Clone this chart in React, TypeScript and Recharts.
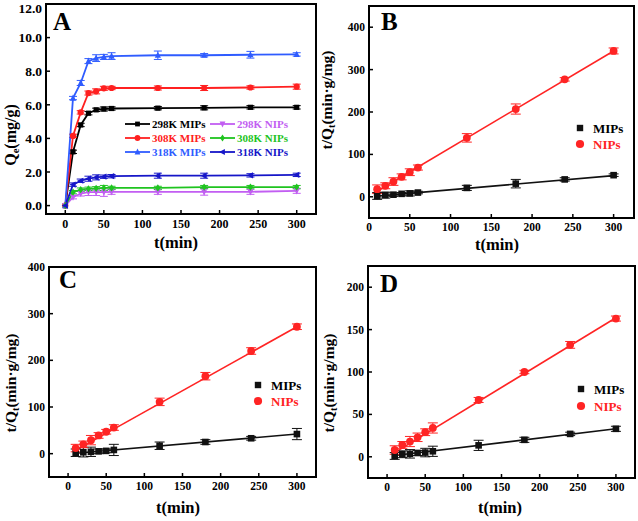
import React from 'react';
import { ComposedChart, Line, Scatter, XAxis, YAxis, ErrorBar, ReferenceArea } from 'recharts';

// ---- panel A: adsorption kinetics ----
const timesA = [0, 10, 20, 30, 40, 50, 60, 120, 180, 240, 300];
const mip298 = [0, 3.2, 4.8, 5.5, 5.7, 5.75, 5.78, 5.8, 5.82, 5.85, 5.85];
const mip298Err = [0, 0.1, 0.1, 0.1, 0.1, 0.12, 0.1, 0.1, 0.12, 0.1, 0.1];
const mip308 = [0, 4.15, 5.55, 6.7, 6.8, 6.98, 7.0, 7.0, 7.0, 7.03, 7.08];
const mip308Err = [0, 0.1, 0.1, 0.12, 0.15, 0.12, 0.1, 0.12, 0.15, 0.1, 0.15];
const mip318 = [0, 6.4, 7.3, 8.6, 8.78, 8.85, 8.9, 8.95, 8.95, 8.98, 9.0];
const mip318Err = [0, 0.1, 0.15, 0.15, 0.2, 0.15, 0.2, 0.25, 0.1, 0.2, 0.1];
const nip298 = [0, 0.5, 0.72, 0.8, 0.8, 0.8, 0.82, 0.82, 0.82, 0.82, 0.88];
const nip298Err = [0, 0.1, 0.15, 0.2, 0.2, 0.25, 0.15, 0.15, 0.2, 0.15, 0.15];
const nip308 = [0, 0.8, 0.95, 1.0, 1.03, 1.05, 1.05, 1.05, 1.1, 1.1, 1.1];
const nip308Err = [0, 0.1, 0.1, 0.1, 0.1, 0.15, 0.1, 0.1, 0.1, 0.1, 0.1];
const nip318 = [0, 1.25, 1.48, 1.6, 1.68, 1.72, 1.75, 1.78, 1.78, 1.8, 1.83];
const nip318Err = [0, 0.1, 0.1, 0.15, 0.15, 0.1, 0.1, 0.15, 0.15, 0.1, 0.1];
const ticksA_x = [0, 50, 100, 150, 200, 250, 300];
const ticksA_y = [0, 2, 4, 6, 8, 10, 12];

// ---- panels B, C, D: pseudo-second-order fits ----
const timesFit = [10, 20, 30, 40, 50, 60, 120, 180, 240, 300];

const bNip = [18, 26, 36, 47, 58, 69, 139, 207, 277, 344];
const bNipErr = [10, 7, 9, 7, 8, 6, 10, 12, 4, 7];
const bMip = [2, 4, 5, 7, 8, 10, 21, 31, 41, 51];
const bMipErr = [8, 7, 4, 3, 6, 3, 6, 10, 4, 3];
const bNipLine = [13, 344];
const bMipLine = [1.5, 50];

const cNip = [12, 20, 29, 39, 47, 56, 111, 166, 220, 272];
const cNipErr = [8, 7, 10, 6, 5, 6, 8, 8, 7, 6];
const cMip = [2, 3, 4, 5, 6, 8, 17, 25, 33, 42];
const cMipErr = [8, 10, 10, 5, 4, 12, 8, 5, 4, 12];
const cNipLine = [7, 272];
const cMipLine = [1, 42];

const dNip = [8, 14, 18, 23, 29, 34, 67, 100, 132, 163];
const dNipErr = [5, 4, 6, 5, 4, 6, 3, 2, 4, 3];
const dMip = [1, 3, 3.5, 4.5, 5, 6.5, 13.5, 20, 27, 33];
const dMipErr = [4, 4, 5, 3, 5, 6, 6, 3, 2, 3];
const dNipLine = [5, 164];
const dMipLine = [1.5, 33];

const lineEnds = [10, 300];
const ticksFit_x = [0, 50, 100, 150, 200, 250, 300];

const FONT = '"Liberation Serif", "Times New Roman", serif';
const RED = '#ff2424';
const BLACK = '#111';

const rowsA = timesA.map((t, i) => ({
  t,
  m298: mip298[i], m298e: mip298Err[i],
  m308: mip308[i], m308e: mip308Err[i],
  m318: mip318[i], m318e: mip318Err[i],
  n298: nip298[i], n298e: nip298Err[i],
  n308: nip308[i], n308e: nip308Err[i],
  n318: nip318[i], n318e: nip318Err[i],
}));

const Marker = ({ cx, cy, kind, color, s = 3 }: any) => {
  if (cx == null || cy == null) return null;
  switch (kind) {
    case 'square':
      return <rect x={cx - s} y={cy - s} width={s * 2} height={s * 2} fill={color} />;
    case 'circle':
      return <circle cx={cx} cy={cy} r={s + 0.5} fill={color} />;
    case 'up':
      return <polygon points={`${cx},${cy - s - 1} ${cx - s - 0.5},${cy + s} ${cx + s + 0.5},${cy + s}`} fill={color} />;
    case 'down':
      return <polygon points={`${cx},${cy + s + 1} ${cx - s - 0.5},${cy - s} ${cx + s + 0.5},${cy - s}`} fill={color} />;
    case 'diamond':
      return <polygon points={`${cx},${cy - s - 1} ${cx + s},${cy} ${cx},${cy + s + 1} ${cx - s},${cy}`} fill={color} />;
    case 'left':
      return <polygon points={`${cx - s - 1},${cy} ${cx + s},${cy - s - 0.5} ${cx + s},${cy + s + 0.5}`} fill={color} />;
    default:
      return null;
  }
};

const seriesA = [
  { key: 'm298', name: '298K MIPs', color: '#000000', kind: 'square' },
  { key: 'm308', name: '308K MIPs', color: '#ff2020', kind: 'circle' },
  { key: 'm318', name: '318K MIPs', color: '#2f5cff', kind: 'up' },
  { key: 'n298', name: '298K NIPs', color: '#c25ef2', kind: 'down' },
  { key: 'n308', name: '308K NIPs', color: '#1fc41f', kind: 'diamond' },
  { key: 'n318', name: '318K NIPs', color: '#1616c8', kind: 'left' },
];

const tickStyle = (size: number) => ({ fill: '#000', fontSize: size, fontWeight: 'bold', fontFamily: FONT });

const PanelA = () => (
  <ComposedChart width={319} height={260} data={rowsA} margin={{ top: 4, right: 3, left: 0, bottom: 0 }}>
    <XAxis
      dataKey="t" type="number" domain={[-25, 325]} ticks={ticksA_x} allowDataOverflow
      height={46} tickSize={-4} tickMargin={9} axisLine={false}
      tickLine={{ stroke: '#000', strokeWidth: 1.5 }} tick={tickStyle(12)}
    />
    <YAxis
      type="number" domain={[-0.5, 12]} ticks={ticksA_y} allowDataOverflow
      width={46} tickSize={-4} tickMargin={8} axisLine={false}
      tickFormatter={(v: number) => v.toFixed(1)}
      tickLine={{ stroke: '#000', strokeWidth: 1.5 }} tick={tickStyle(13.5)}
    />
    <ReferenceArea x1={-25} x2={325} y1={-0.5} y2={12} ifOverflow="visible"
      fill="none" stroke="#000" strokeWidth={2} strokeOpacity={1} />
    {seriesA.map((s) => (
      <Line
        key={s.key}
        dataKey={s.key}
        type="linear"
        stroke={s.color}
        strokeWidth={1.8}
        isAnimationActive={false}
        dot={(p: any) => <Marker key={p.index} cx={p.cx} cy={p.cy} kind={s.kind} color={s.color} s={2.6} />}
        activeDot={false}
      >
        <ErrorBar dataKey={s.key + 'e'} width={4} stroke={s.color} strokeWidth={1} direction="y" />
      </Line>
    ))}
  </ComposedChart>
);

type FitProps = {
  mip: number[]; mipErr: number[]; nip: number[]; nipErr: number[];
  mipLine: number[]; nipLine: number[];
  xDomain: number[]; yDomain: number[]; yTicks: number[];
  height: number; top: number; yWidth: number; xHeight: number; right: number;
};

const FitPanel = ({ mip, mipErr, nip, nipErr, mipLine, nipLine, xDomain, yDomain, yTicks, height, top, yWidth, xHeight, right }: FitProps) => {
  const mipRows = timesFit.map((t, i) => ({ t, v: mip[i], e: mipErr[i] }));
  const nipRows = timesFit.map((t, i) => ({ t, v: nip[i], e: nipErr[i] }));
  const mipFit = lineEnds.map((t, i) => ({ t, v: mipLine[i] }));
  const nipFit = lineEnds.map((t, i) => ({ t, v: nipLine[i] }));
  return (
    <ComposedChart width={319} height={height} margin={{ top, right, left: 0, bottom: 0 }}>
      <XAxis
        dataKey="t" type="number" domain={xDomain} ticks={ticksFit_x} allowDataOverflow
        height={xHeight} tickSize={-4} tickMargin={9} axisLine={false}
        tickLine={{ stroke: '#000', strokeWidth: 1.5 }} tick={tickStyle(11.5)}
      />
      <YAxis
        dataKey="v" type="number" domain={yDomain} ticks={yTicks} allowDataOverflow
        width={yWidth} tickSize={-4} tickMargin={8} axisLine={false}
        tickLine={{ stroke: '#000', strokeWidth: 1.5 }} tick={tickStyle(11.5)}
      />
      <ReferenceArea x1={xDomain[0]} x2={xDomain[1]} y1={yDomain[0]} y2={yDomain[1]} ifOverflow="visible"
        fill="none" stroke="#000" strokeWidth={2} strokeOpacity={1} />
      <Line data={mipFit} dataKey="v" type="linear" stroke={BLACK} strokeWidth={1.6} dot={false} activeDot={false} isAnimationActive={false} />
      <Line data={nipFit} dataKey="v" type="linear" stroke={RED} strokeWidth={1.6} dot={false} activeDot={false} isAnimationActive={false} />
      <Scatter data={mipRows} dataKey="v" isAnimationActive={false}
        shape={(p: any) => <Marker cx={p.cx} cy={p.cy} kind="square" color={BLACK} s={3.3} />}>
        <ErrorBar dataKey="e" width={5} stroke={BLACK} strokeWidth={1} direction="y" />
      </Scatter>
      <Scatter data={nipRows} dataKey="v" isAnimationActive={false}
        shape={(p: any) => <Marker cx={p.cx} cy={p.cy} kind="circle" color={RED} s={3.4} />}>
        <ErrorBar dataKey="e" width={5} stroke={RED} strokeWidth={1} direction="y" />
      </Scatter>
    </ComposedChart>
  );
};

const txt = { fontFamily: FONT, fontWeight: 'bold' as const, fill: '#000' };

const YTitleQt = ({ x, y }: { x: number; y: number }) => (
  <text x={x} y={y} transform={`rotate(-90 ${x} ${y})`} textAnchor="middle" fontSize={15.5} {...txt}>
    t/Q<tspan fontSize={10} dy={3}>t</tspan><tspan dy={-3}>(min·g/mg)</tspan>
  </text>
);

const SmallLegend = ({ x, y1, y2 }: { x: number; y1: number; y2: number }) => (
  <g>
    <Marker cx={x} cy={y1} kind="square" color={BLACK} s={3.2} />
    <text x={x + 13} y={y1 + 4.5} fontSize={13} {...txt}>MIPs</text>
    <Marker cx={x} cy={y2} kind="circle" color={RED} s={3.6} />
    <text x={x + 13} y={y2 + 4.5} fontSize={13} {...txt} fill={RED}>NIPs</text>
  </g>
);

const legendRowsA = [
  [seriesA[0], seriesA[3]],
  [seriesA[1], seriesA[4]],
  [seriesA[2], seriesA[5]],
];

const App = () => (
  <div style={{ position: 'absolute', left: 0, top: 0, width: 638, height: 521, background: '#fff', fontFamily: FONT }}>
    <div style={{ position: 'absolute', left: 0, top: 0 }}>
      <PanelA />
    </div>
    <div style={{ position: 'absolute', left: 319, top: 0 }}>
      <FitPanel mip={bMip} mipErr={bMipErr} nip={bNip} nipErr={bNipErr} mipLine={bMipLine} nipLine={bNipLine}
        xDomain={[0, 325]} yDomain={[-50, 450]} yTicks={[0, 100, 200, 300, 400]}
        height={260} top={6} yWidth={50} xHeight={42} right={4} />
    </div>
    <div style={{ position: 'absolute', left: 0, top: 260 }}>
      <FitPanel mip={cMip} mipErr={cMipErr} nip={cNip} nipErr={cNipErr} mipLine={cMipLine} nipLine={cNipLine}
        xDomain={[-25, 325]} yDomain={[-50, 400]} yTicks={[0, 100, 200, 300, 400]}
        height={261} top={7} yWidth={49} xHeight={44} right={3} />
    </div>
    <div style={{ position: 'absolute', left: 319, top: 260 }}>
      <FitPanel mip={dMip} mipErr={dMipErr} nip={dNip} nipErr={dNipErr} mipLine={dMipLine} nipLine={dNipLine}
        xDomain={[-25, 325]} yDomain={[-25, 225]} yTicks={[0, 50, 100, 150, 200]}
        height={261} top={6} yWidth={49} xHeight={43} right={3} />
    </div>
    <svg width={638} height={521} style={{ position: 'absolute', left: 0, top: 0, pointerEvents: 'none' }}>
      {/* panel letters */}
      <text x={53} y={30} fontSize={25} {...txt}>A</text>
      <text x={381} y={30} fontSize={25} {...txt}>B</text>
      <text x={59} y={288} fontSize={25} {...txt}>C</text>
      <text x={380} y={292} fontSize={25} {...txt}>D</text>
      {/* x titles */}
      <text x={176} y={248} textAnchor="middle" fontSize={16.5} {...txt}>t(min)</text>
      <text x={497} y={250} textAnchor="middle" fontSize={16.5} {...txt}>t(min)</text>
      <text x={178} y={513} textAnchor="middle" fontSize={16.5} {...txt}>t(min)</text>
      <text x={500} y={513} textAnchor="middle" fontSize={16.5} {...txt}>t(min)</text>
      {/* y titles */}
      <text x={16} y={135} transform="rotate(-90 16 135)" textAnchor="middle" fontSize={16} {...txt}>
        Q<tspan fontSize={10.5} dy={3}>e</tspan><tspan dy={-3}>(mg/g)</tspan>
      </text>
      <YTitleQt x={332} y={100} />
      <YTitleQt x={16} y={383} />
      <YTitleQt x={334} y={383} />
      {/* legend A */}
      {legendRowsA.map((row, r) => (
        <g key={r}>
          {row.map((s, c) => {
            const lx = c === 0 ? 125 : 210;
            const cy = 124 + r * 14;
            return (
              <g key={s.key}>
                <line x1={lx} x2={lx + 25} y1={cy} y2={cy} stroke={s.color} strokeWidth={1.8} />
                <Marker cx={lx + 12.5} cy={cy} kind={s.kind} color={s.color} s={2.4} />
                <text x={lx + 27} y={cy + 4} fontSize={11} {...txt} fill={s.color}>{s.name}</text>
              </g>
            );
          })}
        </g>
      ))}
      {/* legends B, C, D */}
      <SmallLegend x={580} y1={128} y2={144} />
      <SmallLegend x={258} y1={385} y2={401} />
      <SmallLegend x={581} y1={389} y2={406} />
    </svg>
  </div>
);

export default App;
